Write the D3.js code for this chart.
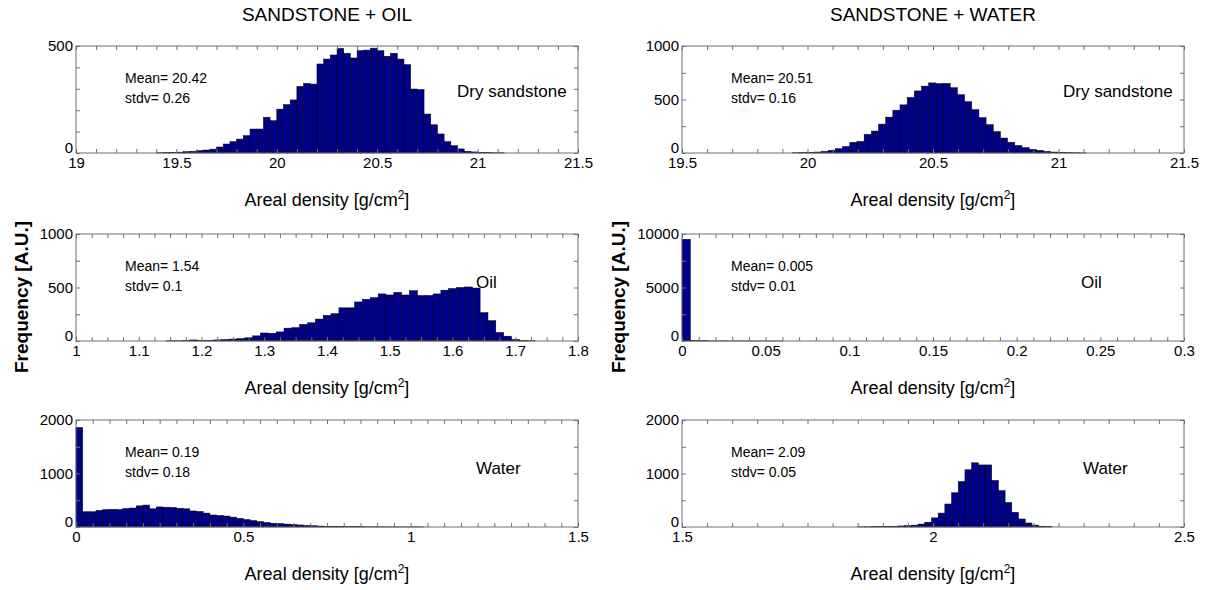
<!DOCTYPE html>
<html>
<head>
<meta charset="utf-8">
<script src="https://cdn.jsdelivr.net/npm/d3@7"></script>
<style>
  body { margin: 0; background: #fff; }
  text { font-family: Arial, "Liberation Sans", sans-serif; fill: #000; }
</style>
</head>
<body>
<svg id="chart" width="1211" height="590"></svg>
<script>
// ---------- values ----------
const columnTitles = ["SANDSTONE + OIL", "SANDSTONE + WATER"];
const yTitle = "Frequency [A.U.]";

// sandstone + oil : dry sandstone
const oilDryStart = 19.4, oilDryBin = 1 / 30;
const oilDryCounts = [1, 2, 3, 4, 6, 8, 11, 14, 18, 28, 42, 53, 65, 81, 112, 112, 167, 151, 205, 226,
  248, 311, 325, 322, 416, 439, 458, 489, 466, 444, 478, 481, 490, 478, 452, 466, 439, 413, 299, 296,
  182, 132, 89, 53, 34, 19, 8, 5, 3, 2, 1, 1];

// sandstone + water : dry sandstone
const waterDryStart = 19.94, waterDryBin = 1 / 35;
const waterDryCounts = [2, 3, 5, 9, 15, 25, 40, 60, 100, 108, 175, 205, 270, 335, 400, 450, 520, 580,
  625, 655, 648, 650, 610, 545, 480, 405, 330, 265, 200, 140, 100, 70, 50, 35, 25, 15, 9, 5, 3, 2, 1];

// sandstone + oil : oil
const oilOilStart = 1.144, oilOilBin = 0.0125;
const oilOilCounts = [2, 2, 4, 10, 4, 6, 10, 14, 18, 22, 30, 48, 75, 72, 85, 120, 125, 155, 170, 205,
  240, 255, 310, 310, 365, 390, 405, 440, 430, 455, 430, 470, 425, 425, 440, 475, 490, 500, 505, 495,
  265, 190, 80, 45, 15, 5, 2];

// sandstone + water : oil
const waterOilStart = 0, waterOilBin = 0.005;
const waterOilCounts = [9500, 40, 25, 15, 10, 8, 6, 5, 4, 3, 3, 2];

// sandstone + oil : water
const oilWaterStart = 0, oilWaterBin = 0.02;
const oilWaterCounts = [1860, 285, 285, 310, 325, 330, 325, 345, 355, 395, 410, 340, 375, 370, 365,
  350, 340, 300, 290, 260, 225, 215, 205, 185, 160, 140, 120, 100, 85, 70, 65, 55, 45, 38, 30, 24,
  18, 14, 11, 9, 7, 6, 5, 4, 3, 3, 2, 2, 2, 1, 3, 1];

// sandstone + water : water
const waterWaterStart = 1.8503, waterWaterBin = 1 / 75;
const waterWaterCounts = [3, 4, 6, 8, 10, 12, 20, 25, 35, 55, 90, 170, 260, 430, 640, 850, 1070, 1200,
  1160, 1160, 870, 680, 457, 275, 150, 75, 35, 15, 5];

const meanLabels = ["Mean= 20.42", "Mean= 20.51", "Mean= 1.54", "Mean= 0.005", "Mean= 0.19", "Mean= 2.09"];
const stdvLabels = ["stdv= 0.26", "stdv= 0.16", "stdv= 0.1", "stdv= 0.01", "stdv= 0.18", "stdv= 0.05"];
const phaseNames = ["Dry sandstone", "Dry sandstone", "Oil", "Oil", "Water", "Water"];

const xDomains = [[19, 21.5], [19.5, 21.5], [1, 1.8], [0, 0.3], [0, 1.5], [1.5, 2.5]];
const xTickLabels = [
  [19, 19.5, 20, 20.5, 21, 21.5],
  [19.5, 20, 20.5, 21, 21.5],
  [1, 1.1, 1.2, 1.3, 1.4, 1.5, 1.6, 1.7, 1.8],
  [0, 0.05, 0.1, 0.15, 0.2, 0.25, 0.3],
  [0, 0.5, 1, 1.5],
  [1.5, 2, 2.5]
];
const xMinorSteps = [0.1, 0.1, 0.025, 0.01, 0.05, 0.05];
const yMaxes = [500, 1000, 1000, 10000, 2000, 2000];
const yTickLabels = [[0, 500], [0, 500, 1000], [0, 500, 1000], [0, 5000, 10000], [0, 1000, 2000], [0, 1000, 2000]];
const yMinorSteps = [100, 250, 250, 2500, 500, 500];

// panel table for drawing (row-major: left col, right col)
const panels = [
  { start: oilDryStart, bin: oilDryBin, counts: oilDryCounts },
  { start: waterDryStart, bin: waterDryBin, counts: waterDryCounts },
  { start: oilOilStart, bin: oilOilBin, counts: oilOilCounts },
  { start: waterOilStart, bin: waterOilBin, counts: waterOilCounts },
  { start: oilWaterStart, bin: oilWaterBin, counts: oilWaterCounts },
  { start: waterWaterStart, bin: waterWaterBin, counts: waterWaterCounts }
].map((p, i) => ({
  ...p,
  xDomain: xDomains[i], xLabels: xTickLabels[i], xStep: xMinorSteps[i],
  yMax: yMaxes[i], yLabels: yTickLabels[i], yStep: yMinorSteps[i],
  mean: meanLabels[i], stdv: stdvLabels[i], phase: phaseNames[i]
}));

// ---------- layout ----------
const colLeft = [76, 682];
const rowTop = [46, 234, 420];
const plotW = 502, plotH = 107;
const phaseOffset = [381, 381, 400, 399, 400, 401];
const phaseDy = [51, 51, 54, 54, 54, 54];
const frameColor = "#6f6f6f";
const barColor = "#000088";

const svg = d3.select("#chart");

panels.forEach((p, i) => {
  const left = colLeft[i % 2], top = rowTop[Math.floor(i / 2)];
  const x = d3.scaleLinear().domain(p.xDomain).range([0, plotW]);
  const y = d3.scaleLinear().domain([0, p.yMax]).range([plotH, 0]);
  const g = svg.append("g").attr("transform", `translate(${left},${top})`);

  // histogram bars
  g.selectAll(".bar")
    .data(p.counts)
    .join("rect")
    .attr("class", "bar")
    .attr("x", (d, k) => x(p.start + k * p.bin))
    .attr("width", (d, k) => x(p.start + (k + 1) * p.bin) - x(p.start + k * p.bin))
    .attr("y", (d) => y(d))
    .attr("height", (d) => plotH - y(d))
    .attr("fill", barColor)
    .attr("stroke", "#000")
    .attr("stroke-width", 0.5);

  // inward ticks on all four sides
  const xMinor = d3.range(p.xDomain[0], p.xDomain[1] + p.xStep / 2, p.xStep);
  const yMinor = d3.range(0, p.yMax + p.yStep / 2, p.yStep);
  const ticks = g.append("g").attr("class", "ticks");
  ticks.append("g")
    .attr("transform", `translate(0,${plotH})`)
    .call(d3.axisBottom(x).tickValues(xMinor).tickSize(-4).tickFormat(""));
  ticks.append("g")
    .call(d3.axisTop(x).tickValues(xMinor).tickSize(-4).tickFormat(""));
  ticks.append("g")
    .call(d3.axisLeft(y).tickValues(yMinor).tickSize(-4).tickFormat(""));
  ticks.append("g")
    .attr("transform", `translate(${plotW},0)`)
    .call(d3.axisRight(y).tickValues(yMinor).tickSize(-4).tickFormat(""));
  ticks.selectAll(".domain").remove();
  ticks.selectAll(".tick line").attr("stroke", frameColor);

  // frame
  g.append("rect")
    .attr("width", plotW)
    .attr("height", plotH)
    .attr("fill", "none")
    .attr("stroke", frameColor)
    .attr("stroke-width", 1);

  // tick labels
  g.append("g")
    .attr("transform", `translate(0,${plotH})`)
    .call(d3.axisBottom(x).tickValues(p.xLabels).tickSize(0).tickPadding(4).tickFormat((d) => String(d)))
    .attr("font-size", 15)
    .call((a) => a.select(".domain").remove());
  const yl = g.append("g")
    .call(d3.axisLeft(y).tickValues(p.yLabels).tickSize(0).tickPadding(3).tickFormat((d) => String(d)))
    .attr("font-size", 15)
    .call((a) => a.select(".domain").remove());
  // the zero label sits just above the x axis, as in the original
  yl.selectAll(".tick text").filter((d) => d === 0).attr("dy", "-0.05em");

  // stats + phase name
  g.append("text").attr("x", 49).attr("y", 37).attr("font-size", 14).text(p.mean);
  g.append("text").attr("x", 49).attr("y", 57).attr("font-size", 14).text(p.stdv);
  g.append("text")
    .attr("x", phaseOffset[i])
    .attr("y", phaseDy[i])
    .attr("font-size", 17)
    .text(p.phase);

  // x axis title with superscript
  const xt = g.append("text")
    .attr("x", plotW / 2)
    .attr("y", plotH + 53)
    .attr("text-anchor", "middle")
    .attr("font-size", 18);
  xt.append("tspan").text("Areal density [g/cm");
  xt.append("tspan").attr("dy", -7).attr("font-size", 12).text("2");
  xt.append("tspan").attr("dy", 7).text("]");
});

// column titles
columnTitles.forEach((t, c) => {
  svg.append("text")
    .attr("x", colLeft[c] + plotW / 2)
    .attr("y", 21)
    .attr("text-anchor", "middle")
    .attr("font-size", 19)
    .text(t);
});

// y titles
[28, 625].forEach((bx) => {
  svg.append("text")
    .attr("transform", `translate(${bx},297) rotate(-90)`)
    .attr("text-anchor", "middle")
    .attr("font-size", 19)
    .attr("font-weight", "bold")
    .text(yTitle);
});
</script>
</body>
</html>
